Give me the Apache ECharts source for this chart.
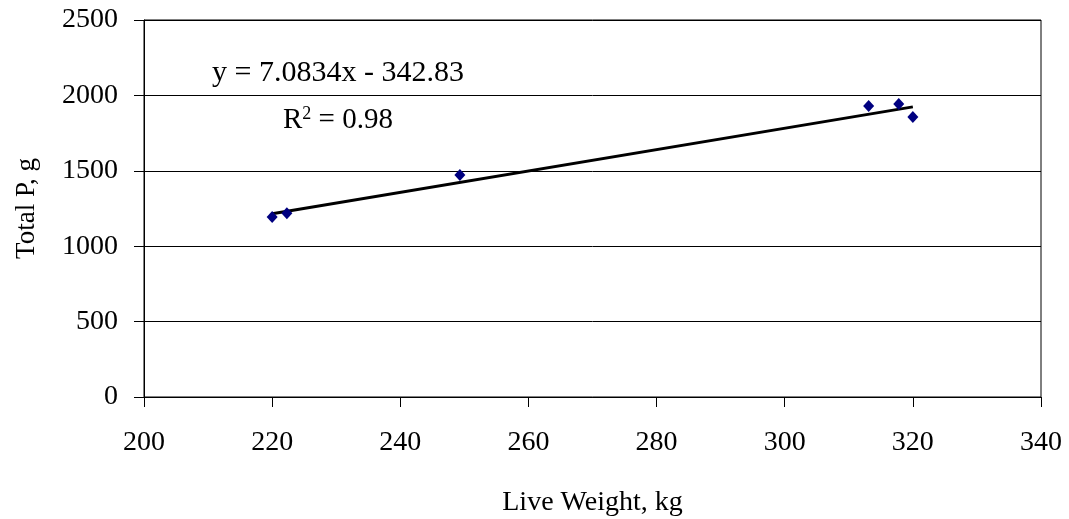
<!DOCTYPE html>
<html>
<head>
<meta charset="utf-8">
<script src="https://cdn.jsdelivr.net/npm/echarts@6/dist/echarts.min.js"></script>
<style>
  html, body { margin: 0; padding: 0; background: #fff; }
  #chart { width: 1069px; height: 519px; }
</style>
</head>
<body>
<div id="chart"></div>
<script>
// measured points (live weight kg, total P g)
const liveWeight = [220, 222.3, 249.3, 313.1, 317.8, 320]
const totalP = [1194, 1218, 1472, 1930, 1943, 1857]

// linear trend as printed on the chart
const slope = 7.0834
const intercept = -342.83
const trendX = [220, 320]

const xTicks = { min: 200, max: 340, interval: 20 }
const yTicks = { min: 0, max: 2500, interval: 500 }

const font = 'Liberation Serif, Times New Roman, serif'

const chart = echarts.init(document.getElementById('chart'))

chart.setOption({
  animation: false,
  grid: {
    left: 144, right: 28, top: 20, bottom: 122,
    containLabel: false, outerBoundsMode: 'none',
    show: true, borderColor: '#000', borderWidth: 1
  },
  xAxis: {
    type: 'value',
    min: xTicks.min, max: xTicks.max, interval: xTicks.interval,
    name: 'Live Weight, kg',
    nameLocation: 'middle',
    nameGap: 92,
    nameTextStyle: { fontFamily: font, fontSize: 28, color: '#000' },
    axisLine: { lineStyle: { color: '#000', width: 1 } },
    axisTick: { show: true, length: 10, lineStyle: { color: '#000' } },
    axisLabel: { fontFamily: font, fontSize: 28, color: '#000', margin: 32, formatter: v => String(v) },
    splitLine: { show: false }
  },
  yAxis: {
    type: 'value',
    min: yTicks.min, max: yTicks.max, interval: yTicks.interval,
    name: 'Total P, g',
    nameLocation: 'middle',
    nameGap: 104,
    nameTextStyle: { fontFamily: font, fontSize: 27, color: '#000' },
    axisLine: { show: true, lineStyle: { color: '#000', width: 1 } },
    axisTick: { show: true, length: 10, lineStyle: { color: '#000' } },
    axisLabel: { fontFamily: font, fontSize: 28, color: '#000', margin: 26, formatter: v => String(v) },
    splitLine: { show: true, lineStyle: { color: '#000', width: 1 } }
  },
  series: [
    {
      type: 'line',
      data: trendX.map(x => [x, slope * x + intercept]),
      symbol: 'none',
      lineStyle: { color: '#000', width: 3 },
      z: 2
    },
    {
      type: 'scatter',
      data: liveWeight.map((x, i) => [x, totalP[i]]),
      symbol: 'diamond',
      symbolSize: [11, 12],
      itemStyle: { color: '#000080', opacity: 1 },
      z: 3
    }
  ],
  graphic: [
    {
      type: 'text',
      left: 212, top: 58,
      style: { text: 'y = 7.0834x - 342.83', font: '30px ' + font, fill: '#000' }
    },
    {
      type: 'text',
      left: 283, top: 105,
      style: {
        text: 'R{sup|2} = 0.98',
        font: '29px ' + font,
        fill: '#000',
        rich: { sup: { fontSize: 18, fontFamily: font, verticalAlign: 'top', padding: [0, 0, 12, 0] } }
      }
    }
  ]
})
</script>
</body>
</html>
